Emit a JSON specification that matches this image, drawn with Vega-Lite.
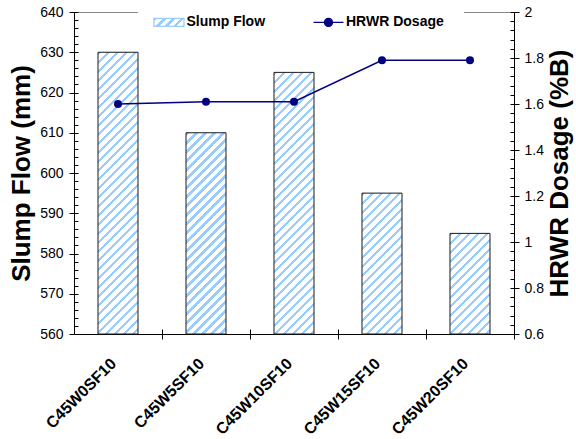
{
  "$schema": "https://vega.github.io/schema/vega-lite/v6.json",
  "width": 440,
  "height": 322,
  "autosize": {"type": "none"},
  "padding": {"left": 74, "top": 12, "right": 62, "bottom": 105},
  "config": {"view": {"stroke": null}, "font": "Liberation Sans", "axis": {"grid": false}},
  "params": [
    {"name": "stripes", "value": [
      {"offset":0,"color":"#9cf"},{"offset":0.0111,"color":"#9cf"},{"offset":0.0111,"color":"#fff"},{"offset":0.0278,"color":"#fff"},
      {"offset":0.0278,"color":"#9cf"},{"offset":0.0389,"color":"#9cf"},{"offset":0.0389,"color":"#fff"},{"offset":0.0556,"color":"#fff"},
      {"offset":0.0556,"color":"#9cf"},{"offset":0.0667,"color":"#9cf"},{"offset":0.0667,"color":"#fff"},{"offset":0.0833,"color":"#fff"},
      {"offset":0.0833,"color":"#9cf"},{"offset":0.0944,"color":"#9cf"},{"offset":0.0944,"color":"#fff"},{"offset":0.1111,"color":"#fff"},
      {"offset":0.1111,"color":"#9cf"},{"offset":0.1222,"color":"#9cf"},{"offset":0.1222,"color":"#fff"},{"offset":0.1389,"color":"#fff"},
      {"offset":0.1389,"color":"#9cf"},{"offset":0.15,"color":"#9cf"},{"offset":0.15,"color":"#fff"},{"offset":0.1667,"color":"#fff"},
      {"offset":0.1667,"color":"#9cf"},{"offset":0.1778,"color":"#9cf"},{"offset":0.1778,"color":"#fff"},{"offset":0.1944,"color":"#fff"},
      {"offset":0.1944,"color":"#9cf"},{"offset":0.2056,"color":"#9cf"},{"offset":0.2056,"color":"#fff"},{"offset":0.2222,"color":"#fff"},
      {"offset":0.2222,"color":"#9cf"},{"offset":0.2333,"color":"#9cf"},{"offset":0.2333,"color":"#fff"},{"offset":0.25,"color":"#fff"},
      {"offset":0.25,"color":"#9cf"},{"offset":0.2611,"color":"#9cf"},{"offset":0.2611,"color":"#fff"},{"offset":0.2778,"color":"#fff"},
      {"offset":0.2778,"color":"#9cf"},{"offset":0.2889,"color":"#9cf"},{"offset":0.2889,"color":"#fff"},{"offset":0.3056,"color":"#fff"},
      {"offset":0.3056,"color":"#9cf"},{"offset":0.3167,"color":"#9cf"},{"offset":0.3167,"color":"#fff"},{"offset":0.3333,"color":"#fff"},
      {"offset":0.3333,"color":"#9cf"},{"offset":0.3444,"color":"#9cf"},{"offset":0.3444,"color":"#fff"},{"offset":0.3611,"color":"#fff"},
      {"offset":0.3611,"color":"#9cf"},{"offset":0.3722,"color":"#9cf"},{"offset":0.3722,"color":"#fff"},{"offset":0.3889,"color":"#fff"},
      {"offset":0.3889,"color":"#9cf"},{"offset":0.4,"color":"#9cf"},{"offset":0.4,"color":"#fff"},{"offset":0.4167,"color":"#fff"},
      {"offset":0.4167,"color":"#9cf"},{"offset":0.4278,"color":"#9cf"},{"offset":0.4278,"color":"#fff"},{"offset":0.4444,"color":"#fff"},
      {"offset":0.4444,"color":"#9cf"},{"offset":0.4556,"color":"#9cf"},{"offset":0.4556,"color":"#fff"},{"offset":0.4722,"color":"#fff"},
      {"offset":0.4722,"color":"#9cf"},{"offset":0.4833,"color":"#9cf"},{"offset":0.4833,"color":"#fff"},{"offset":0.5,"color":"#fff"},
      {"offset":0.5,"color":"#9cf"},{"offset":0.5111,"color":"#9cf"},{"offset":0.5111,"color":"#fff"},{"offset":0.5278,"color":"#fff"},
      {"offset":0.5278,"color":"#9cf"},{"offset":0.5389,"color":"#9cf"},{"offset":0.5389,"color":"#fff"},{"offset":0.5556,"color":"#fff"},
      {"offset":0.5556,"color":"#9cf"},{"offset":0.5667,"color":"#9cf"},{"offset":0.5667,"color":"#fff"},{"offset":0.5833,"color":"#fff"},
      {"offset":0.5833,"color":"#9cf"},{"offset":0.5944,"color":"#9cf"},{"offset":0.5944,"color":"#fff"},{"offset":0.6111,"color":"#fff"},
      {"offset":0.6111,"color":"#9cf"},{"offset":0.6222,"color":"#9cf"},{"offset":0.6222,"color":"#fff"},{"offset":0.6389,"color":"#fff"},
      {"offset":0.6389,"color":"#9cf"},{"offset":0.65,"color":"#9cf"},{"offset":0.65,"color":"#fff"},{"offset":0.6667,"color":"#fff"},
      {"offset":0.6667,"color":"#9cf"},{"offset":0.6778,"color":"#9cf"},{"offset":0.6778,"color":"#fff"},{"offset":0.6944,"color":"#fff"},
      {"offset":0.6944,"color":"#9cf"},{"offset":0.7056,"color":"#9cf"},{"offset":0.7056,"color":"#fff"},{"offset":0.7222,"color":"#fff"},
      {"offset":0.7222,"color":"#9cf"},{"offset":0.7333,"color":"#9cf"},{"offset":0.7333,"color":"#fff"},{"offset":0.75,"color":"#fff"},
      {"offset":0.75,"color":"#9cf"},{"offset":0.7611,"color":"#9cf"},{"offset":0.7611,"color":"#fff"},{"offset":0.7778,"color":"#fff"},
      {"offset":0.7778,"color":"#9cf"},{"offset":0.7889,"color":"#9cf"},{"offset":0.7889,"color":"#fff"},{"offset":0.8056,"color":"#fff"},
      {"offset":0.8056,"color":"#9cf"},{"offset":0.8167,"color":"#9cf"},{"offset":0.8167,"color":"#fff"},{"offset":0.8333,"color":"#fff"},
      {"offset":0.8333,"color":"#9cf"},{"offset":0.8444,"color":"#9cf"},{"offset":0.8444,"color":"#fff"},{"offset":0.8611,"color":"#fff"},
      {"offset":0.8611,"color":"#9cf"},{"offset":0.8722,"color":"#9cf"},{"offset":0.8722,"color":"#fff"},{"offset":0.8889,"color":"#fff"},
      {"offset":0.8889,"color":"#9cf"},{"offset":0.9,"color":"#9cf"},{"offset":0.9,"color":"#fff"},{"offset":0.9167,"color":"#fff"},
      {"offset":0.9167,"color":"#9cf"},{"offset":0.9278,"color":"#9cf"},{"offset":0.9278,"color":"#fff"},{"offset":0.9444,"color":"#fff"},
      {"offset":0.9444,"color":"#9cf"},{"offset":0.9556,"color":"#9cf"},{"offset":0.9556,"color":"#fff"},{"offset":0.9722,"color":"#fff"},
      {"offset":0.9722,"color":"#9cf"},{"offset":0.9833,"color":"#9cf"},{"offset":0.9833,"color":"#fff"},{"offset":1,"color":"#fff"}
    ]}
  ],
  "data": {"values": [
    {"mix": "C45W0SF10", "flow": 630, "dose": 1.60},
    {"mix": "C45W5SF10", "flow": 610, "dose": 1.61},
    {"mix": "C45W10SF10", "flow": 625, "dose": 1.61},
    {"mix": "C45W15SF10", "flow": 595, "dose": 1.79},
    {"mix": "C45W20SF10", "flow": 585, "dose": 1.79}
  ]},
  "resolve": {"scale": {"y": "independent"}, "axis": {"x": "independent", "y": "independent"}},
  "layer": [
    {
      "mark": {"type": "bar", "stroke": "#1a1a1a", "strokeWidth": 1},
      "encoding": {
        "x": {"field": "mix", "type": "nominal", "sort": null,
          "scale": {"paddingInner": 0.54545, "paddingOuter": 0.27273},
          "axis": {"orient": "bottom", "title": null, "ticks": false, "domain": true, "domainColor": "#000",
            "labelAngle": -45, "labelAlign": "right", "labelBaseline": "top", "labelOverlap": false,
            "labelFont": "Liberation Sans", "labelFontSize": 16, "labelFontWeight": "bold", "labelColor": "#000",
            "labelPadding": 21, "labelOffset": -10}},
        "y": {"field": "flow", "type": "quantitative",
          "scale": {"domain": [560, 640], "nice": false, "zero": false},
          "axis": {"orient": "left", "values": [560, 570, 580, 590, 600, 610, 620, 630, 640],
            "tickSize": 5, "tickColor": "#000", "domainColor": "#000",
            "labelFont": "Liberation Sans", "labelFontSize": 14, "labelColor": "#000", "labelPadding": 6,
            "title": "Slump Flow (mm)", "titleFont": "Liberation Sans", "titleFontSize": 26, "titleFontWeight": "bold",
            "titleColor": "#000", "titlePadding": 5}},
        "y2": {"datum": 560},
        "fill": {"value": {"expr": "{gradient:'linear',x1:0,y1:0,x2:324/(40*(1+pow((datum.flow-560)*4.025/40,2))),y2:324*((datum.flow-560)*4.025/40)/(40*(1+pow((datum.flow-560)*4.025/40,2))),stops:stripes}"}}
      }
    },
    {
      "mark": {"type": "line", "strokeWidth": 1.5},
      "encoding": {
        "x": {"field": "mix", "type": "nominal", "sort": null, "axis": null},
        "y": {"field": "dose", "type": "quantitative",
          "scale": {"domain": [0.6, 2], "nice": false, "zero": false},
          "axis": {"orient": "right", "values": [0.6, 0.8, 1, 1.2, 1.4, 1.6, 1.8, 2], "format": ".1~f",
            "tickSize": 5, "tickColor": "#000", "domainColor": "#000",
            "labelFont": "Liberation Sans", "labelFontSize": 14, "labelColor": "#000", "labelPadding": 5,
            "title": "HRWR Dosage (%B)", "titleFont": "Liberation Sans", "titleFontSize": 26, "titleFontWeight": "bold",
            "titleColor": "#000", "titleAngle": 270, "titleAlign": "center", "titleBaseline": "top", "titlePadding": 3}},
        "color": {"datum": "HRWR Dosage", "type": "nominal",
          "scale": {"domain": ["Slump Flow", "HRWR Dosage"], "range": ["#99ccff", "#000080"]},
          "legend": {
            "orient": "none", "legendX": 64, "legendY": -20.6, "direction": "horizontal", "title": null,
            "fillColor": "#ffffff", "padding": 20, "columnPadding": 44.5, "labelOffset": 6.5,
            "labelFont": "Liberation Sans", "labelFontSize": 14, "labelFontWeight": "bold", "labelColor": "#000",
            "symbolSize": 400,
            "encode": {"symbols": {"update": {
              "shape": [{"test": "datum.value === 'Slump Flow'", "value": "M-1.5,-0.4H1.5V0.4H-1.5Z"},
                        {"value": "M-1.5,0H1.5M-0.4,0A0.4,0.4 0 1,0 0.4,0A0.4,0.4 0 1,0 -0.4,0"}],
              "fill": [{"test": "datum.value === 'Slump Flow'", "signal": "{gradient:'linear',x1:0,y1:0,x2:10.083,y2:2.689,stops:stripes}"},
                       {"value": "#000080"}],
              "stroke": [{"test": "datum.value === 'Slump Flow'", "value": "#333333"}, {"value": "#000080"}],
              "strokeWidth": {"value": 1.3},
              "opacity": {"value": 1}
            }}}
          }}
      }
    },
    {
      "mark": {"type": "point", "filled": true, "size": 64, "color": "#000080", "opacity": 1},
      "encoding": {
        "x": {"field": "mix", "type": "nominal", "sort": null, "axis": null},
        "y": {"field": "dose", "type": "quantitative", "scale": {"domain": [0.6, 2], "nice": false, "zero": false}, "axis": null}
      }
    },
    {
      "mark": {"type": "point", "opacity": 0},
      "encoding": {
        "x": {"field": "mix", "type": "nominal", "sort": null,
          "axis": {"orient": "bottom", "title": null, "labels": false, "domain": false, "ticks": true,
            "bandPosition": 1.6, "tickSize": 5, "tickColor": "#000"}},
        "y": {"field": "flow", "type": "quantitative", "scale": {"domain": [560, 640], "nice": false, "zero": false},
          "axis": {"orient": "left", "title": null, "labels": false, "domain": false, "tickSize": -4, "tickColor": "#000",
            "values": [560,562,564,566,568,570,572,574,576,578,580,582,584,586,588,590,592,594,596,598,600,602,604,606,608,610,612,614,616,618,620,622,624,626,628,630,632,634,636,638,640]}}
      }
    },
    {
      "mark": {"type": "point", "opacity": 0},
      "encoding": {
        "x": {"field": "mix", "type": "nominal", "sort": null,
          "axis": {"orient": "bottom", "title": null, "labels": false, "domain": false, "ticks": true,
            "bandPosition": 1.6, "tickSize": -5, "tickColor": "#000"}},
        "y": {"field": "dose", "type": "quantitative", "scale": {"domain": [0.6, 2], "nice": false, "zero": false},
          "axis": {"orient": "right", "title": null, "labels": false, "domain": false, "tickSize": -4, "tickColor": "#000",
            "values": [0.6,0.64,0.68,0.72,0.76,0.8,0.84,0.88,0.92,0.96,1,1.04,1.08,1.12,1.16,1.2,1.24,1.28,1.32,1.36,1.4,1.44,1.48,1.52,1.56,1.6,1.64,1.68,1.72,1.76,1.8,1.84,1.88,1.92,1.96,2]}}
      }
    },
    {
      "mark": {"type": "point", "opacity": 0},
      "encoding": {
        "x": {"field": "mix", "type": "nominal", "sort": null,
          "axis": {"orient": "top", "title": null, "labels": false, "ticks": false, "domain": true, "domainColor": "#888888"}}
      }
    }
  ]
}
